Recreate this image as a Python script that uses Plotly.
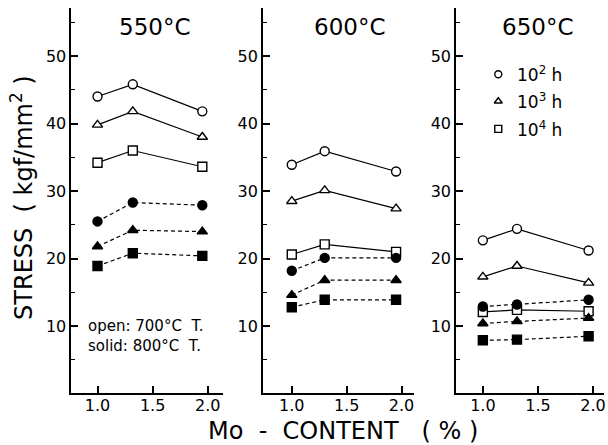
import plotly.graph_objects as go

W, H = 608, 445

# ---- data ----
temps = ["550°C", "600°C", "650°C"]
mo_x = [[1.0, 1.32, 1.95], [1.0, 1.30, 1.95], [1.0, 1.31, 1.96]]

open_102 = [[44.0, 45.8, 41.8], [33.9, 35.9, 32.9], [22.7, 24.4, 21.2]]
open_103 = [[39.8, 41.8, 38.0], [28.5, 30.1, 27.4], [17.3, 18.9, 16.4]]
open_104 = [[34.2, 36.0, 33.6], [20.6, 22.1, 21.0], [12.1, 12.4, 12.2]]
solid_102 = [[25.5, 28.3, 27.9], [18.2, 20.1, 20.1], [12.9, 13.2, 13.9]]
solid_103 = [[21.8, 24.2, 24.0], [14.6, 16.8, 16.8], [10.4, 10.7, 11.2]]
solid_104 = [[18.9, 20.8, 20.4], [12.8, 13.9, 13.9], [7.9, 8.0, 8.5]]

legend_labels = ["10<sup>2</sup> h", "10<sup>3</sup> h", "10<sup>4</sup> h"]
legend_y = [47.3, 43.3, 39.2]
legend_symbols = ["circle", "triangle-up", "square"]

y_ticks = [10, 20, 30, 40, 50]
y_minor = [5, 15, 25, 35, 45, 55]
x_ticks = [1.0, 1.5, 2.0]
x_ticklabels = ["1.0", "1.5", "2.0"]

# ---- layout geometry (pixels) ----
panels_px = [(71.7, 224), (264, 415), (457.7, 606)]
x_ranges = [[0.764, 2.14], [0.739, 2.11], [0.758, 2.10]]
y_top_px, y_bot_px = 8, 393
y_range = [0.1, 57.1]

def px(x):
    return x / W

def py(y):
    return 1 - y / H

fig = go.Figure()

series = [
    (open_102, "circle", False, "solid"),
    (open_103, "triangle-up", False, "solid"),
    (open_104, "square", False, "solid"),
    (solid_102, "circle", True, "dash"),
    (solid_103, "triangle-up", True, "dash"),
    (solid_104, "square", True, "dash"),
]

for i in range(3):
    xa = "x" if i == 0 else f"x{i+1}"
    ya = "y" if i == 0 else f"y{i+1}"
    for vals, sym, filled, dash in series:
        fig.add_trace(go.Scatter(
            x=mo_x[i], y=vals[i], xaxis=xa, yaxis=ya,
            mode="lines+markers",
            line=dict(color="black", width=1.2, dash="4px,3px" if dash == "dash" else "solid"),
            marker=dict(symbol=sym, size=9, color="black" if filled else "white",
                        line=dict(color="black", width=1.4)),
            showlegend=False, cliponaxis=False,
        ))

# legend (manual) in panel 3
leg_x_marker = 1.14
for lab, ly, sym in zip(legend_labels, legend_y, legend_symbols):
    fig.add_trace(go.Scatter(
        x=[leg_x_marker], y=[ly], xaxis="x3", yaxis="y3", mode="markers",
        marker=dict(symbol=sym, size=7, color="white", line=dict(color="black", width=1.4)),
        showlegend=False,
    ))
    fig.add_annotation(x=1.29, y=ly, xref="x3", yref="y3", text=lab, showarrow=False,
                       xanchor="left", yanchor="middle",
                       font=dict(family="DejaVu Sans", size=17, color="black"))

axis_common = dict(showline=True, linecolor="black", linewidth=2, showgrid=False,
                   zeroline=False, mirror=False, ticks="inside", tickcolor="black",
                   ticklen=7, tickwidth=1.5)
font_tick = dict(family="DejaVu Sans", size=16, color="black")

layout = dict(width=W, height=H, margin=dict(l=0, r=0, t=0, b=0),
              paper_bgcolor="white", plot_bgcolor="white", showlegend=False)

for i in range(3):
    xs = "xaxis" if i == 0 else f"xaxis{i+1}"
    ys = "yaxis" if i == 0 else f"yaxis{i+1}"
    xa_anchor = "y" if i == 0 else f"y{i+1}"
    ya_anchor = "x" if i == 0 else f"x{i+1}"
    layout[xs] = dict(axis_common, domain=[px(panels_px[i][0]), px(panels_px[i][1])],
                      range=x_ranges[i], anchor=xa_anchor, tickvals=x_ticks,
                      ticktext=x_ticklabels, tickfont=font_tick, ticklabelstandoff=-3)
    layout[ys] = dict(axis_common, domain=[py(y_bot_px), py(y_top_px)], range=y_range,
                      anchor=ya_anchor, tickvals=y_ticks, tickfont=font_tick,
                      ticklabelstandoff=0,
                      minor=dict(tickvals=y_minor, ticks="inside", ticklen=4,
                                 tickcolor="black", tickwidth=1.2))

fig.update_layout(**layout)

# panel titles
title_cx = [155, 351, 539]
for t, cx in zip(temps, title_cx):
    fig.add_annotation(x=px(cx), y=py(27), xref="paper", yref="paper", text=t,
                       showarrow=False, xanchor="center", yanchor="middle",
                       font=dict(family="DejaVu Sans", size=23, color="black"))

# note text
fig.add_annotation(x=px(86), y=py(326), xref="paper", yref="paper",
                   text="open: 700°C  T.", showarrow=False, xanchor="left", yanchor="middle",
                   font=dict(family="DejaVu Sans", size=15, color="black"))
fig.add_annotation(x=px(86), y=py(346), xref="paper", yref="paper",
                   text="solid: 800°C  T.", showarrow=False, xanchor="left", yanchor="middle",
                   font=dict(family="DejaVu Sans", size=15, color="black"))

# axis titles
fig.add_annotation(x=px(344), y=py(431), xref="paper", yref="paper",
                   text="Mo  -  CONTENT   ( % )", showarrow=False, xanchor="center",
                   yanchor="middle", font=dict(family="DejaVu Sans", size=24, color="black"))
fig.add_annotation(x=px(22), y=py(197), xref="paper", yref="paper",
                   text="STRESS  ( kgf/mm<sup>2</sup> )", showarrow=False, textangle=-90,
                   xanchor="center", yanchor="middle",
                   font=dict(family="DejaVu Sans", size=24, color="black"))

fig.write_html("out.html")
